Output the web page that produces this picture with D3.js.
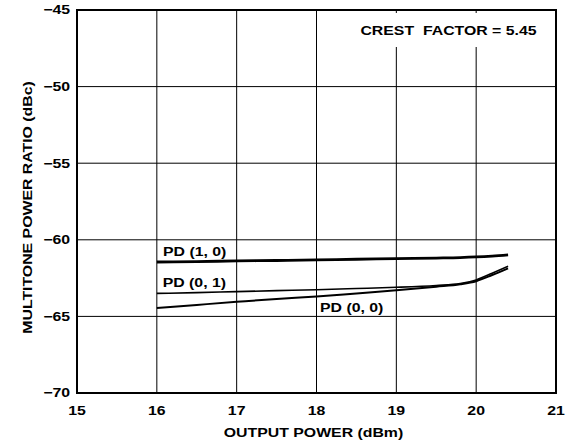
<!DOCTYPE html>
<html><head><meta charset="utf-8">
<script src="https://cdn.jsdelivr.net/npm/d3@7"></script>
<style>body{margin:0;background:#fff}svg{display:block}text{font-family:"Liberation Sans",Arial,sans-serif;font-weight:bold;fill:#000;font-size:12.2px}</style>
</head><body>
<script>
const xTicks = [15,16,17,18,19,20,21];
const yTicks = [-45,-50,-55,-60,-65,-70];
const xPower = [16,16.5,17,17.5,18,18.5,19,19.5,19.8,20,20.2,20.4];
const pd10 = [-61.45,-61.42,-61.38,-61.35,-61.31,-61.27,-61.23,-61.19,-61.16,-61.12,-61.06,-60.98];
const pd01 = [-63.5,-63.45,-63.38,-63.32,-63.26,-63.18,-63.1,-62.98,-62.86,-62.62,-62.18,-61.72];
const pd00 = [-64.45,-64.25,-64.05,-63.86,-63.7,-63.5,-63.3,-63.06,-62.9,-62.7,-62.3,-61.86];
const seriesNames = ["PD (1, 0)","PD (0, 1)","PD (0, 0)"];

const W=566,H=444, L=77,R=556,T=10,B=393, SX=1.3;
const svg=d3.select("body").append("svg").attr("width",W).attr("height",H);
const x=d3.scaleLinear().domain([15,21]).range([L,R]);
const y=d3.scaleLinear().domain([-70,-45]).range([B,T]);

function txt(px,py,str,anchor,rot){
  const g=svg.append("g").attr("transform",`translate(${px},${py}) rotate(${rot||0}) scale(${SX},1)`);
  g.append("text").attr("text-anchor",anchor||"start").attr("xml:space","preserve").text(str);
  return g;
}

// grid
svg.append("g").selectAll("line").data(xTicks.slice(1,-1)).join("line")
 .attr("x1",d=>x(d)).attr("x2",d=>x(d)).attr("y1",T).attr("y2",B).attr("stroke","#000").attr("stroke-width",1);
svg.append("g").selectAll("line").data(yTicks.slice(1,-1)).join("line")
 .attr("x1",L).attr("x2",R).attr("y1",d=>y(d)).attr("y2",d=>y(d)).attr("stroke","#000").attr("stroke-width",1);

// crest factor box
svg.append("rect").attr("x",352).attr("y",13).attr("width",196).attr("height",34).attr("fill","#fff");
txt(448.5,35,"CREST  FACTOR = 5.45","middle");

// frame
svg.append("rect").attr("x",L).attr("y",T).attr("width",R-L).attr("height",B-T).attr("fill","none").attr("stroke","#000").attr("stroke-width",2);

// tick labels
yTicks.forEach(d=>txt(70,y(d)+4.3,d3.format("d")(d).replace("-","\u2212"),"end"));
xTicks.forEach(d=>txt(x(d),415,String(d),"middle"));

txt(313.5,437,"OUTPUT POWER (dBm)","middle");
txt(31.5,207.5,"MULTITONE POWER RATIO (dBc)","middle",-90);

// curves
const line=d3.line().x(d=>x(d[0])).y(d=>y(d[1])).curve(d3.curveMonotoneX);
const series=[pd10,pd01,pd00];
const widths=[2.8,1.6,2];
series.forEach((s,i)=>{
  svg.append("path").datum(xPower.map((v,j)=>[v,s[j]])).attr("d",line)
   .attr("fill","none").attr("stroke","#000").attr("stroke-width",widths[i]);
});

// series labels
const labPos=[[163,256],[162.7,286.5],[320,312]];
labPos.forEach((p,i)=>txt(p[0],p[1],seriesNames[i],"start"));
</script>
</body></html>
